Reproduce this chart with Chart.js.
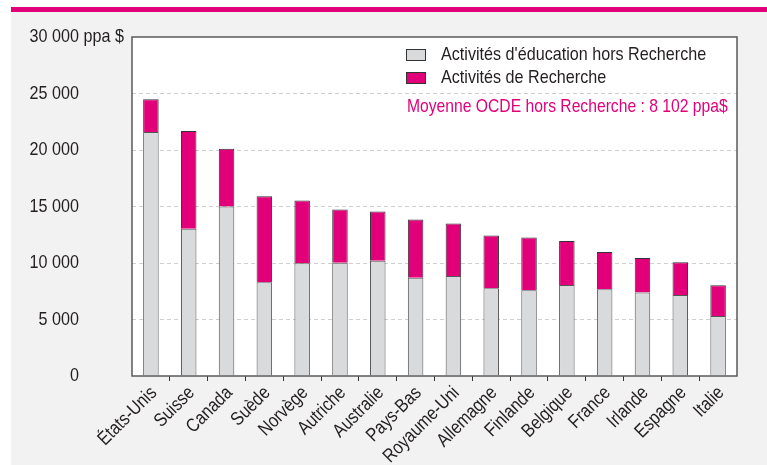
<!DOCTYPE html>
<html>
<head>
<meta charset="utf-8">
<script src="https://cdn.jsdelivr.net/npm/chart.js@4.4.1/dist/chart.umd.min.js"></script>
<style>
  html, body { margin: 0; padding: 0; background: #fff; }
  #wrap { position: relative; width: 767px; height: 465px; }
</style>
</head>
<body>
<div id="wrap"><canvas id="chart" width="767" height="465"></canvas></div>
<script>
// Data (ppa $ per student)
const countries = ['États-Unis', 'Suisse', 'Canada', 'Suède', 'Norvège', 'Autriche', 'Australie', 'Pays-Bas',
    'Royaume-Uni', 'Allemagne', 'Finlande', 'Belgique', 'France', 'Irlande', 'Espagne', 'Italie'];
const horsRecherche = [21590, 13020, 15000, 8290, 9970, 10030, 10210, 8700, 8850, 7760, 7580, 8050, 7670, 7380, 7160, 5300];
const recherche = [2900, 8660, 5110, 7620, 5560, 4700, 4340, 5150, 4640, 4670, 4670, 3900, 3310, 3060, 2900, 2720];
const yTickValues = [0, 5000, 10000, 15000, 20000, 25000, 30000];
const yTickLabels = ['0', '5 000', '10 000', '15 000', '20 000', '25 000', '30 000'];
const yUnit = ' ppa $';
const seriesNames = ["Activités d'éducation hors Recherche", 'Activités de Recherche'];
const noteText = 'Moyenne OCDE hors Recherche : 8 102 ppa$';

// no narrow face installed, so squeeze Liberation Sans horizontally
const FONT = "19px 'Liberation Sans', Arial, sans-serif";
const SQUEEZE = 0.85;
const PINK = '#e2007a';
const GREY = '#d9dadc';
const TEXT = '#231f20';

function narrowText(ctx, txt, x, y, align, angle, squeeze) {
    ctx.save();
    ctx.translate(x, y);
    if (angle) ctx.rotate(angle);
    ctx.scale(squeeze || SQUEEZE, 1);
    ctx.textAlign = align;
    ctx.textBaseline = 'middle';
    ctx.fillText(txt, 0, 0);
    ctx.restore();
}

// backgrounds: white page, pink rule, grey panel, white plot area
const backgroundPlugin = {
    id: 'backgrounds',
    beforeDraw(chart) {
        const { ctx, chartArea } = chart;
        ctx.save();
        ctx.fillStyle = '#fff';
        ctx.fillRect(0, 0, chart.width, chart.height);
        ctx.fillStyle = '#f2f2f2';
        ctx.fillRect(11, 12, chart.width - 11, chart.height - 12);
        ctx.fillStyle = PINK;
        ctx.fillRect(11, 7, chart.width - 11, 5);
        ctx.fillStyle = '#fff';
        ctx.fillRect(chartArea.left, chartArea.top, chartArea.right - chartArea.left, chartArea.bottom - chartArea.top);
        ctx.restore();
    }
};

// axis labels, frame and legend box
const decorPlugin = {
    id: 'decor',
    afterDraw(chart) {
        const { ctx, chartArea } = chart;
        const y = chart.scales.y;
        const x = chart.scales.x;
        ctx.save();
        ctx.font = FONT;
        ctx.fillStyle = TEXT;

        const labelRight = chartArea.left - 53;
        yTickValues.forEach((v, i) => {
            const py = y.getPixelForValue(v);
            const txt = yTickLabels[i];
            if (i === yTickValues.length - 1) {
                const w = ctx.measureText(txt).width * SQUEEZE;
                narrowText(ctx, txt + yUnit, labelRight - w, py, 'left');
            } else {
                narrowText(ctx, txt, labelRight, py, 'right');
            }
        });

        countries.forEach((c, i) => {
            const px = x.getPixelForTick(i);
            narrowText(ctx, c, px + 3, chartArea.bottom + 14, 'right', -Math.PI / 4);
        });

        // plot frame
        ctx.strokeStyle = '#5a5a5a';
        ctx.lineWidth = 1.5;
        ctx.strokeRect(chartArea.left, chartArea.top, chartArea.right - chartArea.left, chartArea.bottom - chartArea.top);

        // legend
        const lx = chartArea.left + 274;
        const rows = [chartArea.top + 18, chartArea.top + 41];
        const fills = [GREY, PINK];
        rows.forEach((ry, i) => {
            ctx.fillStyle = fills[i];
            ctx.fillRect(lx, ry - 6, 20, 12);
            ctx.strokeStyle = '#333';
            ctx.lineWidth = 1;
            ctx.strokeRect(lx + 0.5, ry - 5.5, 19, 11);
            ctx.fillStyle = TEXT;
            narrowText(ctx, seriesNames[i], lx + 35, ry, 'left');
        });
        ctx.fillStyle = PINK;
        narrowText(ctx, noteText, lx + 1, chartArea.top + 70, 'left', 0, 0.825);
        ctx.restore();
    }
};

const ctx = document.getElementById('chart').getContext('2d');
new Chart(ctx, {
    type: 'bar',
    data: {
        labels: countries,
        datasets: [{
            label: seriesNames[0],
            data: horsRecherche,
            backgroundColor: GREY,
            borderColor: '#555',
            borderWidth: 1,
            barPercentage: 0.41,
            categoryPercentage: 1
        }, {
            label: seriesNames[1],
            data: recherche,
            backgroundColor: PINK,
            borderColor: '#333',
            borderWidth: 1,
            barPercentage: 0.41,
            categoryPercentage: 1
        }]
    },
    options: {
        responsive: false,
        animation: false,
        layout: { padding: { left: 132, top: 37, right: 30, bottom: 0 } },
        plugins: {
            legend: { display: false },
            tooltip: { enabled: false }
        },
        scales: {
            x: {
                stacked: true,
                grid: {
                    display: true,
                    drawOnChartArea: false,
                    drawTicks: true,
                    tickLength: 5,
                    // no tick marks on the outer frame edges
                    color: ctx => (!ctx.tick || ctx.index === 0) ? 'rgba(0,0,0,0)' : '#333'
                },
                border: { display: false },
                ticks: { display: false },
                afterFit(scale) { scale.height = 89; }
            },
            y: {
                stacked: true,
                min: 0,
                max: 30000,
                afterBuildTicks(scale) { scale.ticks = yTickValues.map(v => ({ value: v })); },
                grid: {
                    color: ctx => (ctx.tick && (ctx.tick.value === 0 || ctx.tick.value === 30000)) ? 'rgba(0,0,0,0)' : '#cfcfcf',
                    drawTicks: false,
                    lineWidth: 1
                },
                border: { display: false, dash: [4, 3] },
                ticks: { display: false },
                afterFit(scale) { scale.width = 0; }
            }
        }
    },
    plugins: [backgroundPlugin, decorPlugin]
});
</script>
</body>
</html>
